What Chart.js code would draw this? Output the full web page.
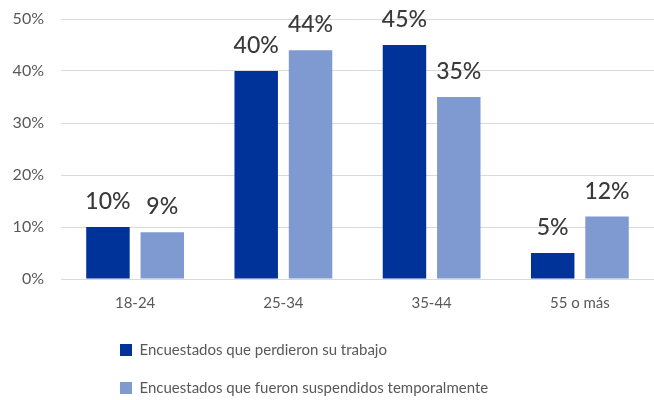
<!DOCTYPE html>
<html>
<head>
<meta charset="utf-8">
<script src="https://cdn.jsdelivr.net/npm/chart.js@4.4.0/dist/chart.umd.min.js"></script>
<style>
  html, body { margin: 0; padding: 0; background: #fff; }
  #wrap { width: 654px; height: 400px; }
</style>
</head>
<body>
<div id="wrap"><canvas id="chart"></canvas></div>
<script>
var categories = ['18-24', '25-34', '35-44', '55 o más'];
var perdieron = [10, 40, 45, 5];
var suspendidos = [9, 44, 35, 12];
var seriesNames = ['Encuestados que perdieron su trabajo', 'Encuestados que fueron suspendidos temporalmente'];

var fontFamily = 'Lato, "Open Sans", sans-serif';

// etiquetas de valor encima de cada barra
var valueLabels = {
    id: 'valueLabels',
    afterDatasetsDraw: function (chart) {
        var ctx = chart.ctx;
        ctx.save();
        ctx.font = '500 23px ' + fontFamily;
        ctx.fillStyle = '#3a3a3a';
        ctx.textAlign = 'center';
        ctx.textBaseline = 'alphabetic';
        chart.data.datasets.forEach(function (ds, i) {
            chart.getDatasetMeta(i).data.forEach(function (bar, j) {
                ctx.fillText(ds.data[j] + '%', bar.x, bar.y - 18);
            });
        });
        ctx.restore();
    }
};

// leyenda en columna, colocada como en el original
var legendPlace = {
    id: 'legendPlace',
    afterLayout: function (chart) {
        var lg = chart.legend;
        var w = lg.right - lg.left, h = lg.bottom - lg.top;
        lg.left = 97; lg.right = 97 + w;
        lg.top = 319.5; lg.bottom = 319.5 + h;
    }
};

new Chart(document.getElementById('chart').getContext('2d'), {
    type: 'bar',
    data: {
        labels: categories,
        datasets: [{
            label: seriesNames[0],
            data: perdieron,
            backgroundColor: '#00339a',
            categoryPercentage: 0.733,
            barPercentage: 0.8
        }, {
            label: seriesNames[1],
            data: suspendidos,
            backgroundColor: '#7f99d1',
            categoryPercentage: 0.733,
            barPercentage: 0.8
        }]
    },
    options: {
        responsive: true,
        maintainAspectRatio: false,
        animation: false,
        layout: { padding: { top: 19, right: -1, left: 0, bottom: -13 } },
        plugins: {
            legend: {
                position: 'bottom',
                align: 'start',
                labels: {
                    boxWidth: 12,
                    boxHeight: 12,
                    padding: 23,
                    color: '#595959',
                    font: { family: fontFamily, size: 15 }
                }
            },
            tooltip: { enabled: false }
        },
        scales: {
            x: {
                grid: { display: false, drawTicks: false },
                border: { display: false },
                ticks: {
                    color: '#595959',
                    padding: 15,
                    font: { family: fontFamily, size: 15 }
                }
            },
            y: {
                min: 0,
                max: 50,
                border: { display: false },
                grid: { color: '#d9d9d9', lineWidth: 1, drawTicks: false },
                ticks: {
                    stepSize: 10,
                    color: '#595959',
                    padding: 17,
                    font: { family: fontFamily, size: 16 },
                    callback: function (v) { return v + '%'; }
                },
                afterFit: function (s) {
                    s.width = 61;
                    s.paddingTop = 0;
                    s.paddingBottom = 0;
                }
            }
        }
    },
    plugins: [valueLabels, legendPlace]
});
</script>
</body>
</html>
